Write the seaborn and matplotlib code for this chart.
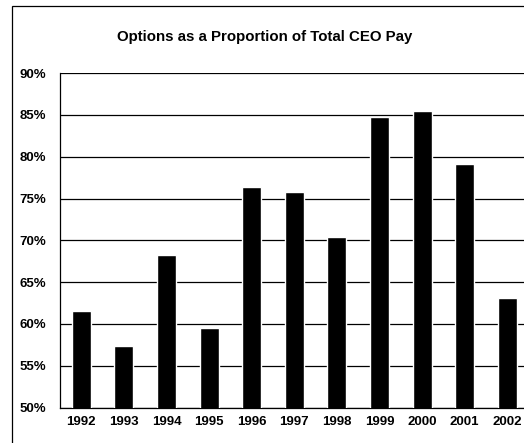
import matplotlib
matplotlib.use("Agg")
import matplotlib.pyplot as plt
from matplotlib.patches import Rectangle
from matplotlib.ticker import FixedLocator
import seaborn as sns
import pandas as pd

years = ["1992", "1993", "1994", "1995", "1996", "1997", "1998", "1999", "2000", "2001", "2002"]
option_share = [61.6, 57.3, 68.2, 59.5, 76.4, 75.8, 70.4, 84.8, 85.5, 79.1, 63.1]
y_ticks = [50, 55, 60, 65, 70, 75, 80, 85, 90]
y_tick_labels = [f"{t}%" for t in y_ticks]
title = "Options as a Proportion of Total CEO Pay"

df = pd.DataFrame({"year": years, "share": option_share})

sns.set_style("white")
plt.rcParams["font.family"] = ["Liberation Sans", "DejaVu Sans"]
plt.rcParams["text.color"] = "black"
plt.rcParams["xtick.color"] = "black"
plt.rcParams["ytick.color"] = "black"
plt.rcParams["axes.labelcolor"] = "black"

W, H = 524, 443
fig = plt.figure(figsize=(W / 100, H / 100), dpi=100)
fig.patch.set_facecolor("white")

# plot area in pixels: left 60, right ~528.6, bottom 407.5, top 73.1
left, right, bottom, top = 60, 528.6, 407.5, 73.1
ax = fig.add_axes([left / W, (H - bottom) / H, (right - left) / W, (bottom - top) / H])

sns.barplot(data=df, x="year", y="share", color="black", width=0.45,
            saturation=1, ax=ax, zorder=3)

ax.set_ylim(50, 90)
ax.set_xlim(-0.5, len(years) - 0.5)
ax.set_yticks(y_ticks)
ax.set_yticklabels(y_tick_labels, fontsize=9.5, fontweight="bold", color="black")
ax.set_xticks(range(len(years)))
ax.set_xticklabels(years, fontsize=9.5, fontweight="bold", color="black")
ax.xaxis.set_minor_locator(FixedLocator([i + 0.5 for i in range(-1, len(years))]))

ax.tick_params(axis="x", which="major", length=0, pad=6)
ax.tick_params(axis="x", which="minor", length=4, width=0.9, direction="out", color="black")
ax.tick_params(axis="y", which="major", length=4, width=0.9, direction="out", color="black", pad=6)
ax.set_xlabel("")
ax.set_ylabel("")

ax.yaxis.grid(True, color="black", linewidth=0.9, zorder=0)
ax.set_axisbelow(True)
for side in ("top", "right"):
    ax.spines[side].set_visible(False)
for side in ("left", "bottom"):
    ax.spines[side].set_color("black")
    ax.spines[side].set_linewidth(0.9)

fig.text(265 / W, 1 - 37 / H, title, ha="center", va="center",
         fontsize=10.8, fontweight="bold", color="black")

# chart frame
fig.patches.append(Rectangle((12 / W, -0.05), 1.2, 1 - 6 / H + 0.05,
                             transform=fig.transFigure, fill=False,
                             edgecolor="black", linewidth=0.9))

fig.savefig("out.png", dpi=100, facecolor="white")
